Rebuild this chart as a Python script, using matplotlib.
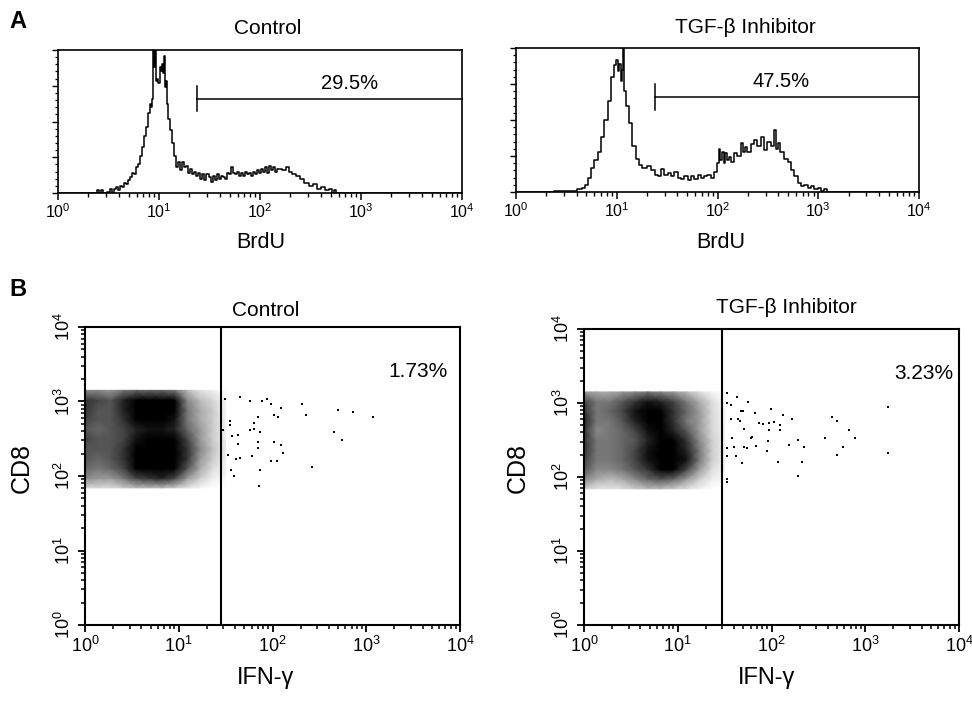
import numpy as np
import matplotlib
matplotlib.use("Agg")
import matplotlib.pyplot as plt
from matplotlib.ticker import LogLocator, MultipleLocator, NullFormatter, LogFormatterSciNotation

plt.rcParams['font.family'] = ['Liberation Sans', 'DejaVu Sans']
plt.rcParams['mathtext.fontset'] = 'custom'
plt.rcParams['mathtext.rm'] = 'Liberation Sans'
plt.rcParams['mathtext.it'] = 'Liberation Sans:italic'
plt.rcParams['mathtext.bf'] = 'Liberation Sans:bold'

# ---------------- Panel A data: BrdU histograms (log10 channel, % of max) ----------------
ctrl_brdu_log = [0.00, 0.38, 0.40, 0.42, 0.44, 0.46, 0.50, 0.52, 0.54, 0.56, 0.58, 0.60, 0.62, 0.64,
                 0.66, 0.68, 0.70, 0.72, 0.74, 0.76, 0.78, 0.80, 0.82, 0.84, 0.86, 0.88, 0.90, 0.92,
                 0.93, 0.94, 0.95, 0.96, 0.97, 0.98, 0.99, 1.00, 1.01, 1.02, 1.03, 1.04, 1.05, 1.06,
                 1.07, 1.08, 1.10, 1.12, 1.14, 1.16, 1.18, 1.20, 1.22, 1.24, 1.26, 1.28, 1.30, 1.32,
                 1.34, 1.36, 1.38, 1.40, 1.42, 1.44, 1.46, 1.48, 1.50, 1.52, 1.54, 1.56, 1.58, 1.60,
                 1.62, 1.64, 1.66, 1.68, 1.70, 1.72, 1.74, 1.76, 1.78, 1.80, 1.82, 1.84, 1.86, 1.88,
                 1.90, 1.92, 1.94, 1.96, 1.98, 2.00, 2.02, 2.04, 2.06, 2.08, 2.10, 2.12, 2.14, 2.16,
                 2.18, 2.20, 2.24, 2.28, 2.30, 2.34, 2.38, 2.42, 2.46, 2.50, 2.54, 2.58, 2.62, 2.66,
                 2.70, 2.72, 2.74, 2.76, 4.00]
ctrl_brdu_h = [0, 0, 2, 0, 2, 0, 1, 3, 0, 3, 4, 2, 5, 4,
               7, 6, 9, 11, 14, 13, 18, 20, 26, 32, 40, 46, 56, 62,
               60, 66, 100, 88, 100, 78, 80, 77, 88, 85, 90, 84, 96, 74,
               78, 62, 52, 44, 35, 26, 18, 22, 16, 22, 18, 19, 14, 17,
               13, 15, 12, 14, 10, 13, 9, 13, 11, 8, 12, 9, 13, 10,
               12, 11, 10, 14, 13, 18, 14, 13, 15, 12, 14, 12, 15, 13,
               14, 12, 15, 13, 16, 14, 17, 15, 18, 14, 19, 16, 18, 15,
               17, 17, 16, 18, 15, 13, 12, 10, 7, 5, 6, 3, 4, 2,
               3, 0, 2, 0, 0]

tgf_brdu_log = [0.00, 0.58, 0.63, 0.68, 0.69, 0.73, 0.76, 0.79, 0.83, 0.86, 0.89, 0.93, 0.96, 0.985,
                1.00, 1.02, 1.03, 1.05, 1.06, 1.068, 1.08, 1.11, 1.14, 1.17, 1.21, 1.24, 1.27, 1.32,
                1.36, 1.39, 1.42, 1.45, 1.49, 1.52, 1.55, 1.59, 1.62, 1.65, 1.69, 1.72, 1.75, 1.79,
                1.82, 1.85, 1.88, 1.92, 1.95, 1.98, 2.00, 2.02, 2.03, 2.05, 2.07, 2.08, 2.10, 2.12,
                2.15, 2.18, 2.21, 2.25, 2.26, 2.28, 2.31, 2.35, 2.38, 2.41, 2.45, 2.48, 2.51, 2.55,
                2.57, 2.60, 2.61, 2.64, 2.68, 2.71, 2.74, 2.78, 2.81, 2.84, 2.88, 2.91, 2.94, 2.98,
                3.01, 3.04, 3.07, 3.11, 4.00]
tgf_brdu_h = [0, 1, 2, 3, 5, 10, 17, 22, 28, 38, 50, 63, 80, 88,
              92, 84, 89, 77, 85, 100, 70, 60, 48, 32, 23, 19, 17, 18,
              15, 12, 11, 16, 12, 13, 11, 14, 10, 9, 11, 8, 11, 9,
              12, 10, 11, 12, 10, 14, 20, 30, 22, 28, 20, 27, 22, 24,
              21, 27, 25, 34, 28, 31, 28, 33, 36, 32, 38, 29, 35, 32,
              43, 30, 34, 28, 23, 21, 15, 11, 6, 4, 5, 3, 4, 2,
              3, 1, 2, 0, 0]

brdu_gate_start = [24, 24]        # BrdU value where the positive gate begins
brdu_gate_level = [66, 66]        # height of gate bar (% of max)
brdu_pct_labels = ["29.5%", "47.5%"]
brdu_titles = ["Control", "TGF-\u03b2 Inhibitor"]

# ---------------- Panel B data: CD8 vs IFN-gamma ----------------
# event density of the main cloud, sampled at log10 grid positions (rows listed top -> bottom)
cloud_ifng_log = [0.0, 0.136, 0.273, 0.409, 0.545, 0.682, 0.818, 0.955, 1.091, 1.227, 1.364, 1.5]
cloud_cd8_log = [1.84, 1.971, 2.102, 2.233, 2.364, 2.495, 2.626, 2.757, 2.888, 3.019, 3.15]

ctrl_cloud = [
    [0.35, 0.35, 0.30, 0.40, 0.45, 0.45, 0.45, 0.40, 0.20, 0.08, 0.05, 0.00],
    [0.60, 0.55, 0.50, 0.65, 0.80, 0.80, 0.80, 0.75, 0.35, 0.20, 0.12, 0.03],
    [0.60, 0.50, 0.50, 0.65, 0.80, 0.80, 0.85, 0.80, 0.40, 0.25, 0.15, 0.03],
    [0.55, 0.50, 0.50, 0.60, 0.75, 0.75, 0.80, 0.70, 0.40, 0.25, 0.15, 0.04],
    [0.50, 0.45, 0.50, 0.55, 0.65, 0.70, 0.70, 0.65, 0.45, 0.30, 0.15, 0.05],
    [0.55, 0.50, 0.50, 0.55, 0.70, 0.80, 0.85, 0.80, 0.55, 0.30, 0.15, 0.05],
    [0.50, 0.50, 0.50, 0.60, 0.80, 0.90, 0.90, 0.85, 0.60, 0.35, 0.18, 0.06],
    [0.50, 0.45, 0.50, 0.60, 0.80, 0.90, 0.95, 0.90, 0.60, 0.30, 0.15, 0.05],
    [0.45, 0.40, 0.45, 0.55, 0.75, 0.85, 0.90, 0.85, 0.50, 0.25, 0.10, 0.04],
    [0.35, 0.30, 0.30, 0.40, 0.55, 0.60, 0.65, 0.55, 0.30, 0.15, 0.05, 0.02],
    [0.12, 0.12, 0.10, 0.15, 0.20, 0.20, 0.20, 0.15, 0.08, 0.03, 0.00, 0.00],
]
tgf_cloud = [
    [0.30, 0.25, 0.25, 0.30, 0.35, 0.40, 0.35, 0.30, 0.20, 0.10, 0.03, 0.00],
    [0.55, 0.40, 0.40, 0.50, 0.60, 0.70, 0.65, 0.55, 0.40, 0.25, 0.10, 0.02],
    [0.60, 0.40, 0.45, 0.55, 0.70, 0.80, 0.75, 0.60, 0.45, 0.30, 0.12, 0.03],
    [0.65, 0.40, 0.40, 0.50, 0.65, 0.80, 0.80, 0.60, 0.40, 0.30, 0.12, 0.03],
    [0.60, 0.35, 0.40, 0.45, 0.55, 0.70, 0.75, 0.65, 0.50, 0.30, 0.12, 0.04],
    [0.60, 0.40, 0.40, 0.45, 0.50, 0.65, 0.75, 0.75, 0.60, 0.35, 0.15, 0.04],
    [0.60, 0.40, 0.40, 0.45, 0.55, 0.70, 0.85, 0.85, 0.65, 0.40, 0.15, 0.04],
    [0.55, 0.40, 0.40, 0.45, 0.55, 0.70, 0.85, 0.90, 0.70, 0.40, 0.15, 0.04],
    [0.50, 0.35, 0.35, 0.40, 0.50, 0.60, 0.75, 0.75, 0.55, 0.30, 0.10, 0.03],
    [0.35, 0.25, 0.20, 0.25, 0.35, 0.45, 0.50, 0.45, 0.30, 0.15, 0.05, 0.02],
    [0.15, 0.08, 0.08, 0.10, 0.15, 0.20, 0.20, 0.15, 0.10, 0.04, 0.00, 0.00],
]

# individual sparse events (IFN-gamma, CD8)
ctrl_ifng = [31.3, 44.7, 57.1, 78.2, 86.3, 95.3, 122.7, 204.6, 496.6, 714.5, 1169.5, 225.9, 104.2,
             113.2, 70.1, 34.9, 34.9, 64.1, 63.1, 58.1, 73.1, 29.6, 37.2, 42.9, 453.9, 553.4, 42.9,
             70.1, 70.1, 105.0, 121.9, 130.0, 33.5, 40.5, 45.4, 61.1, 96.8, 110.4, 261.8, 36.4,
             73.1, 38.5, 71.4]
ctrl_cd8 = [1064, 1132, 1000, 1021, 1064, 940, 813, 931, 773, 719, 628, 668, 662,
            622, 622, 555, 485, 516, 434, 420, 391, 420, 342, 356, 394, 305, 267,
            286, 236, 284, 261, 204, 192, 171, 173, 184, 159, 159, 131, 120,
            122, 101, 72.6]
tgf_ifng = [33.8, 43.3, 56.4, 33.8, 37.3, 47.0, 50.2, 66.4, 98.6, 36.7, 44.4, 46.2, 72.8, 80.4,
            93.1, 107.2, 124.5, 132.7, 166.0, 51.0, 94.0, 122.2, 445.7, 501.2, 674.5, 774.5, 369.0,
            1766, 29.9, 38.3, 60.1, 62.7, 90.8, 155.2, 191.0, 224.9, 580.8, 33.8, 39.8, 51.0, 54.6,
            68.1, 89.3, 33.8, 42.3, 49.0, 116.4, 212.3, 501.2, 1766, 191.0, 33.8, 33.3]
tgf_cd8 = [1352, 1194, 1042, 989, 948, 787, 787, 724, 830, 608, 608, 571, 531, 526,
           531, 560, 505, 689, 608, 441, 432, 432, 647, 565, 432, 333, 333,
           891, 351, 333, 333, 344, 306, 270, 316, 257, 254, 244, 257, 254, 244,
           262, 224, 194, 194, 153, 161, 161, 198, 209, 103, 86.5, 92.9]

ifng_gate = [28.5, 29.5]
ifng_pct_labels = ["1.73%", "3.23%"]
ifng_pct_pos = [(3570, 2490), (4170, 2490)]  # (IFN-gamma, CD8) positions of the % labels

W, H = 972, 702
fig = plt.figure(figsize=(W / 100, H / 100), dpi=100)


def rect(l, t, r, b):
    return [l / W, 1 - b / H, (r - l) / W, (b - t) / H]


def ftext(x, y, s, **kw):
    fig.text(x / W, 1 - y / H, s, **kw)


fmt = LogFormatterSciNotation()

# ---------------- Panel A ----------------
axA = [fig.add_axes(rect(58, 50, 462, 193)), fig.add_axes(rect(516, 48, 919, 192))]
hist_x = [ctrl_brdu_log, tgf_brdu_log]
hist_h = [ctrl_brdu_h, tgf_brdu_h]
for i, ax in enumerate(axA):
    ax.step(10 ** np.array(hist_x[i]), hist_h[i], where='mid', color='k', lw=1.1)
    ax.set_xscale('log')
    ax.set_xlim(1, 1e4)
    ax.set_ylim(0, 100)
    g = brdu_gate_start[i]
    lv = brdu_gate_level[i]
    ax.plot([g, 1e4], [lv, lv], color='k', lw=1.1, clip_on=False)
    ax.plot([g, g], [lv - 9, lv + 9], color='k', lw=1.1)
    ax.xaxis.set_major_locator(LogLocator(base=10, numticks=10))
    ax.xaxis.set_minor_locator(LogLocator(base=10, subs=np.arange(2, 10), numticks=50))
    ax.xaxis.set_minor_formatter(NullFormatter())
    ax.xaxis.set_major_formatter(fmt)
    ax.yaxis.set_major_locator(MultipleLocator(25))
    ax.yaxis.set_minor_locator(MultipleLocator(5))
    ax.tick_params(axis='x', which='major', direction='out', length=5, width=1.1, labelsize=11.5, pad=2)
    ax.tick_params(axis='x', which='minor', direction='out', length=3, width=1.0)
    ax.tick_params(axis='y', which='major', direction='out', length=4, width=1.0, labelleft=False)
    ax.tick_params(axis='y', which='minor', direction='out', length=2.5, width=0.9)
    for s in ax.spines.values():
        s.set_linewidth(1.2)

axA[0].text(776, 72.7, brdu_pct_labels[0], ha='center', va='baseline', fontsize=14.5)
axA[1].text(427, 73, brdu_pct_labels[1], ha='center', va='baseline', fontsize=14.5)

ftext(268, 34, brdu_titles[0], ha='center', va='baseline', fontsize=15)
ftext(745, 33, brdu_titles[1], ha='center', va='baseline', fontsize=15)
ftext(261, 248, "BrdU", ha='center', va='baseline', fontsize=15.5)
ftext(721, 248, "BrdU", ha='center', va='baseline', fontsize=15.5)
ftext(9, 28, "A", ha='left', va='baseline', fontsize=17, fontweight='bold')

# ---------------- Panel B ----------------
axB = [fig.add_axes(rect(85, 327, 460, 625)), fig.add_axes(rect(584, 329, 959, 625))]
clouds = [ctrl_cloud, tgf_cloud]
pts_x = [ctrl_ifng, tgf_ifng]
pts_y = [ctrl_cd8, tgf_cd8]
XX, YY = np.meshgrid(10 ** np.array(cloud_ifng_log), 10 ** np.array(cloud_cd8_log))
for i, ax in enumerate(axB):
    C = np.array(clouds[i])[::-1]
    ax.pcolormesh(XX, YY, C, cmap='gray_r', vmin=0, vmax=0.75, shading='gouraud', zorder=1)
    ax.plot(pts_x[i], pts_y[i], ls='none', marker='s', ms=1.8, mfc='k', mec='k', mew=0, zorder=2)
    ax.axvline(ifng_gate[i], color='k', lw=1.5, zorder=3)
    ax.set_xscale('log')
    ax.set_yscale('log')
    ax.set_xlim(1, 1e4)
    ax.set_ylim(1, 1e4)
    for axis in (ax.xaxis, ax.yaxis):
        axis.set_major_locator(LogLocator(base=10, numticks=10))
        axis.set_minor_locator(LogLocator(base=10, subs=np.arange(2, 10), numticks=50))
        axis.set_minor_formatter(NullFormatter())
        axis.set_major_formatter(fmt)
    ax.tick_params(which='major', direction='out', length=5, width=1.3, labelsize=13)
    ax.tick_params(which='minor', direction='out', length=3, width=1.1)
    ax.tick_params(axis='x', which='major', pad=3)
    ax.tick_params(axis='y', which='major', pad=3, labelrotation=90)
    for lab in ax.get_yticklabels():
        lab.set_va('center')
    for s in ax.spines.values():
        s.set_linewidth(1.5)
    px, py = ifng_pct_pos[i]
    ax.text(px, py, ifng_pct_labels[i], ha='center', va='center', fontsize=15)

ftext(266, 316, "Control", ha='center', va='baseline', fontsize=15)
ftext(786, 313, "TGF-\u03b2 Inhibitor", ha='center', va='baseline', fontsize=15)
ftext(266, 684, "IFN-\u03b3", ha='center', va='baseline', fontsize=17)
ftext(767, 684, "IFN-\u03b3", ha='center', va='baseline', fontsize=17)
ftext(22, 468, "CD8", ha='center', va='center', rotation=90, fontsize=18)
ftext(518, 468, "CD8", ha='center', va='center', rotation=90, fontsize=18)
ftext(9, 296, "B", ha='left', va='baseline', fontsize=17, fontweight='bold')

fig.savefig("out.png", dpi=100)
